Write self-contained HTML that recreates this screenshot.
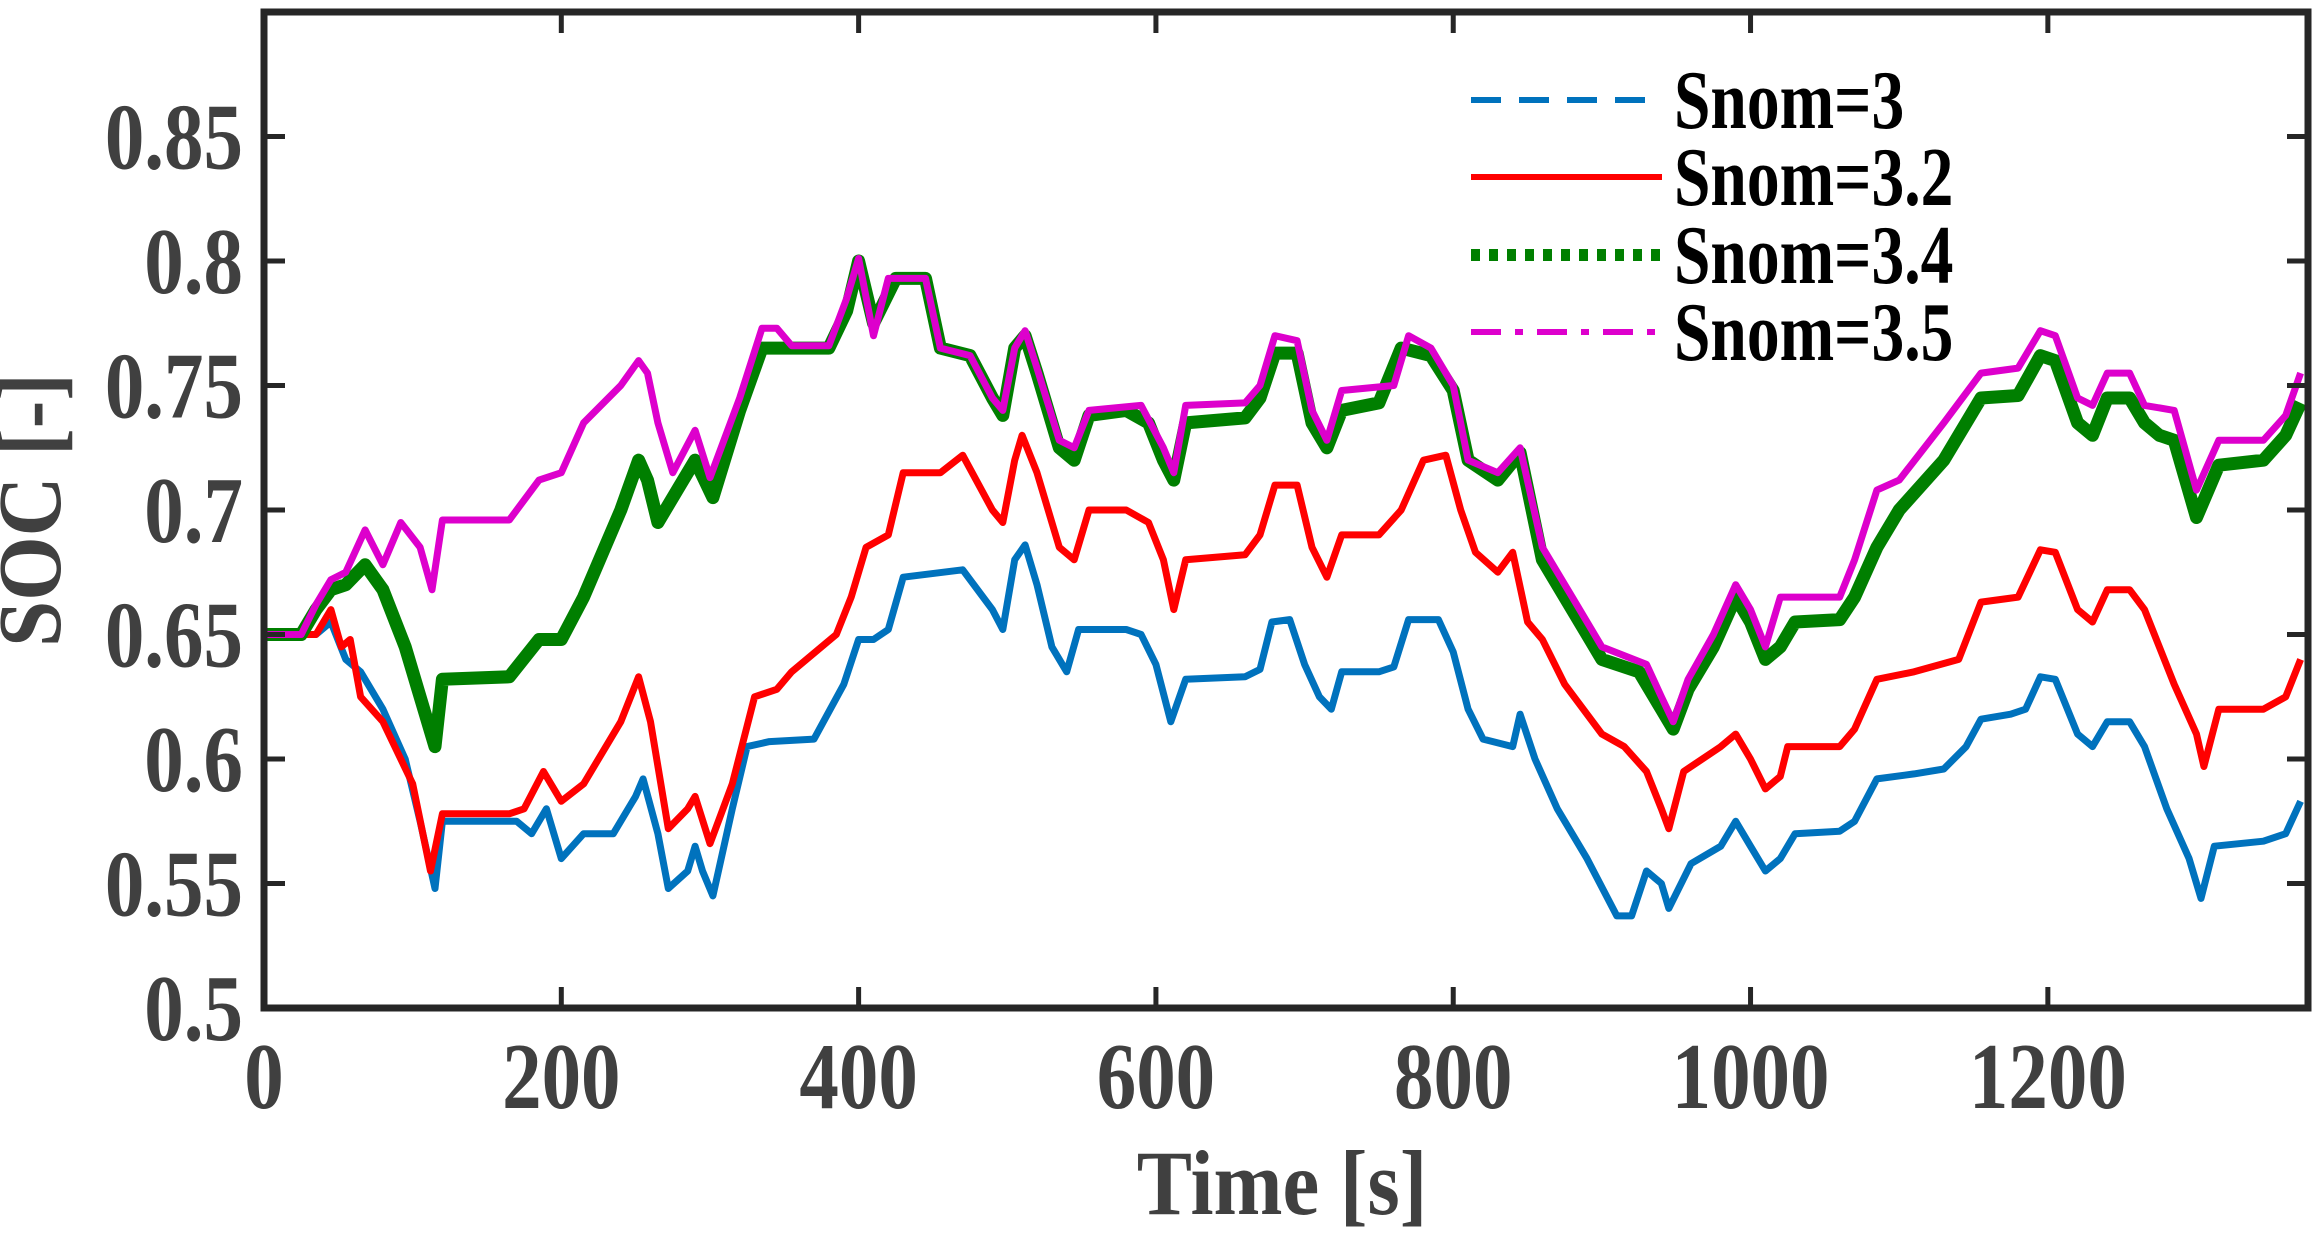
<!DOCTYPE html>
<html><head><meta charset="utf-8"><style>
html,body{margin:0;padding:0;background:#fff;}
svg{display:block;}
text{font-family:"Liberation Serif","Times New Roman",serif;font-weight:bold;}
</style></head><body>
<svg id="chart" width="2313" height="1235" viewBox="0 0 2313 1235" xmlns="http://www.w3.org/2000/svg">
<rect width="2313" height="1235" fill="#fff"/>
<g id="plot"></g>
<g id="axes"></g>
<g id="legend"></g>
<text x="0" y="0" transform="translate(60,510) rotate(-90) scale(0.92,1)" text-anchor="middle" font-size="90" fill="#404040">SOC [-]</text>
<text x="0" y="0" transform="translate(1282,1214) scale(0.9,1)" text-anchor="middle" font-size="92" fill="#404040">Time [s]</text>
</svg>
<script>
const xTicks=[0,200,400,600,800,1000,1200];
const yTicks=[0.5,0.55,0.6,0.65,0.7,0.75,0.8,0.85];
const yTickLabels=["0.5","0.55","0.6","0.65","0.7","0.75","0.8","0.85"];
const seriesNames=["Snom=3","Snom=3.2","Snom=3.4","Snom=3.5"];
const tBlue=[0,35,45,55,65,80,95,105,115,120,170,180,190,200,215,235,250,255,265,272,285,290,295,302,315,325,340,370,390,400,410,420,430,470,490,497,505,512,520,530,540,548,580,590,600,610,620,660,670,678,690,700,710,718,725,750,760,770,790,800,810,820,840,845,855,870,890,910,920,930,940,945,960,980,990,1000,1010,1020,1030,1060,1070,1085,1110,1130,1145,1155,1175,1185,1195,1205,1220,1230,1240,1255,1265,1280,1295,1303,1312,1345,1360,1370];
const vBlue=[0.65,0.65,0.655,0.64,0.635,0.62,0.6,0.575,0.548,0.575,0.575,0.57,0.58,0.56,0.57,0.57,0.585,0.592,0.57,0.548,0.555,0.565,0.555,0.545,0.58,0.605,0.607,0.608,0.63,0.648,0.648,0.652,0.673,0.676,0.66,0.652,0.68,0.686,0.67,0.645,0.635,0.652,0.652,0.65,0.638,0.615,0.632,0.633,0.636,0.655,0.656,0.638,0.625,0.62,0.635,0.635,0.637,0.656,0.656,0.643,0.62,0.608,0.605,0.618,0.6,0.58,0.56,0.537,0.537,0.555,0.55,0.54,0.558,0.565,0.575,0.565,0.555,0.56,0.57,0.571,0.575,0.592,0.594,0.596,0.605,0.616,0.618,0.62,0.633,0.632,0.61,0.605,0.615,0.615,0.605,0.58,0.56,0.544,0.565,0.567,0.57,0.583];
const tRed=[0,35,45,52,58,65,80,100,112,120,165,175,188,200,215,240,252,260,272,285,290,300,315,330,345,355,385,395,405,420,430,455,470,490,497,505,510,520,535,545,555,580,595,605,612,620,660,670,680,695,705,715,725,750,765,780,795,805,815,830,840,850,860,875,900,915,930,940,945,955,980,990,1000,1010,1020,1025,1060,1070,1085,1110,1140,1155,1180,1195,1205,1220,1230,1240,1255,1265,1285,1300,1305,1315,1345,1360,1370];
const vRed=[0.65,0.65,0.66,0.645,0.648,0.625,0.615,0.59,0.555,0.578,0.578,0.58,0.595,0.583,0.59,0.615,0.633,0.615,0.572,0.58,0.585,0.566,0.59,0.625,0.628,0.635,0.65,0.665,0.685,0.69,0.715,0.715,0.722,0.7,0.695,0.72,0.73,0.715,0.685,0.68,0.7,0.7,0.695,0.68,0.66,0.68,0.682,0.69,0.71,0.71,0.685,0.673,0.69,0.69,0.7,0.72,0.722,0.7,0.683,0.675,0.683,0.655,0.648,0.63,0.61,0.605,0.595,0.58,0.572,0.595,0.605,0.61,0.6,0.588,0.593,0.605,0.605,0.612,0.632,0.635,0.64,0.663,0.665,0.684,0.683,0.66,0.655,0.668,0.668,0.66,0.63,0.61,0.597,0.62,0.62,0.625,0.64];
const tGreen=[0,25,35,45,55,68,80,95,105,115,120,165,185,200,215,240,252,258,265,280,290,302,320,335,380,392,400,410,425,445,455,475,490,497,505,512,520,535,545,555,580,595,605,612,620,660,670,680,695,705,715,725,750,765,785,800,810,830,845,860,880,900,925,940,948,958,975,990,1000,1010,1020,1030,1060,1070,1085,1100,1130,1155,1180,1195,1205,1220,1230,1240,1255,1265,1275,1285,1300,1315,1345,1360,1370];
const vGreen=[0.65,0.65,0.66,0.668,0.67,0.678,0.668,0.645,0.625,0.605,0.632,0.633,0.648,0.648,0.665,0.7,0.72,0.712,0.695,0.71,0.72,0.705,0.74,0.765,0.765,0.78,0.8,0.775,0.793,0.793,0.765,0.762,0.745,0.738,0.765,0.77,0.755,0.725,0.72,0.738,0.74,0.735,0.72,0.712,0.735,0.737,0.745,0.763,0.763,0.735,0.725,0.74,0.743,0.765,0.762,0.748,0.72,0.712,0.723,0.68,0.66,0.64,0.635,0.62,0.612,0.628,0.645,0.665,0.655,0.64,0.645,0.655,0.656,0.665,0.685,0.7,0.72,0.745,0.746,0.762,0.76,0.735,0.73,0.745,0.745,0.735,0.73,0.728,0.697,0.718,0.72,0.73,0.743];
const tMag=[0,25,35,45,55,68,80,92,105,113,120,165,185,200,215,240,252,258,265,275,290,300,320,335,345,355,380,392,400,410,420,445,455,475,490,497,505,512,520,535,545,555,590,605,612,620,660,670,680,695,705,715,725,760,770,785,800,810,830,845,860,880,900,930,940,948,958,975,990,1000,1010,1020,1060,1070,1085,1100,1130,1155,1180,1195,1205,1220,1230,1240,1255,1265,1285,1300,1315,1345,1360,1370];
const vMag=[0.65,0.65,0.662,0.672,0.675,0.692,0.678,0.695,0.685,0.668,0.696,0.696,0.712,0.715,0.735,0.75,0.76,0.755,0.735,0.715,0.732,0.713,0.745,0.773,0.773,0.766,0.766,0.785,0.801,0.77,0.793,0.793,0.765,0.762,0.745,0.74,0.765,0.772,0.757,0.728,0.725,0.74,0.742,0.725,0.715,0.742,0.743,0.75,0.77,0.768,0.74,0.728,0.748,0.75,0.77,0.765,0.75,0.72,0.715,0.725,0.685,0.665,0.645,0.638,0.625,0.615,0.632,0.65,0.67,0.66,0.645,0.665,0.665,0.68,0.708,0.712,0.735,0.755,0.757,0.772,0.77,0.745,0.742,0.755,0.755,0.742,0.74,0.708,0.728,0.728,0.738,0.755];

const L=264,R=2308,T=12,B=1008,XMAX=1375,YMIN=0.5,YMAX=0.9;
const xs=t=>L+(t/XMAX)*(R-L);
const ys=v=>B-(v-YMIN)/(YMAX-YMIN)*(B-T);
const NS="http://www.w3.org/2000/svg";
function mk(tag,attrs,parent){const e=document.createElementNS(NS,tag);for(const k in attrs)e.setAttribute(k,attrs[k]);parent.appendChild(e);return e;}
const plot=document.getElementById('plot'),axes=document.getElementById('axes'),legend=document.getElementById('legend');
const series=[
 {t:tBlue,v:vBlue,c:"#0072BD",w:7,n:"series-snom-3"},
 {t:tRed,v:vRed,c:"#FF0000",w:7,n:"series-snom-3-2"},
 {t:tGreen,v:vGreen,c:"#007F00",w:13,n:"series-snom-3-4"},
 {t:tMag,v:vMag,c:"#DD00CC",w:7,n:"series-snom-3-5"}];
series.forEach(s=>{
 const d=s.t.map((t,i)=>(i?'L':'M')+xs(t).toFixed(1)+','+ys(s.v[i]).toFixed(1)).join('');
 const p=mk('path',{d:d,fill:'none',stroke:s.c,'stroke-width':s.w,'stroke-linejoin':'round'},plot);
 
 
});
const box=mk('rect',{x:L,y:T,width:R-L,height:B-T,fill:'none',stroke:'#262626','stroke-width':7},axes);


xTicks.forEach(t=>{
 const x=xs(t);
 mk('line',{x1:x,y1:B,x2:x,y2:B-21,stroke:'#262626','stroke-width':5},axes);
 mk('line',{x1:x,y1:T,x2:x,y2:T+21,stroke:'#262626','stroke-width':5},axes);
 const tx=mk('text',{x:0,y:0,transform:'translate('+x+',1108) scale(0.84,1)','text-anchor':'middle','font-size':94,fill:'#404040'},axes);
 tx.textContent=String(t);
 
 
});
yTicks.forEach((v,i)=>{
 const y=ys(v);
 mk('line',{x1:L,y1:y,x2:L+21,y2:y,stroke:'#262626','stroke-width':5},axes);
 mk('line',{x1:R,y1:y,x2:R-21,y2:y,stroke:'#262626','stroke-width':5},axes);
 const tx=mk('text',{x:0,y:0,transform:'translate(243,'+(y+32)+') scale(0.84,1)','text-anchor':'end','font-size':94,fill:'#404040'},axes);
 tx.textContent=yTickLabels[i];
 
 
});
const dashes=["30,18","none","9,9","30,14,8,14"];
const legY=[100,177,255,332];
series.forEach((s,i)=>{
 const g=mk('g',{},legend);
 
 
 const ln=mk('line',{x1:1471,y1:legY[i],x2:1662,y2:legY[i],stroke:s.c,'stroke-width':i==2?12:6},g);
 if(dashes[i]!=="none")ln.setAttribute('stroke-dasharray',dashes[i]);
 const tx=mk('text',{x:0,y:0,transform:'translate(1674,'+(legY[i]+28)+') scale(0.78,1)','font-size':84,fill:'#000'},g);
 tx.textContent=seriesNames[i];
});
</script>
</body></html>
